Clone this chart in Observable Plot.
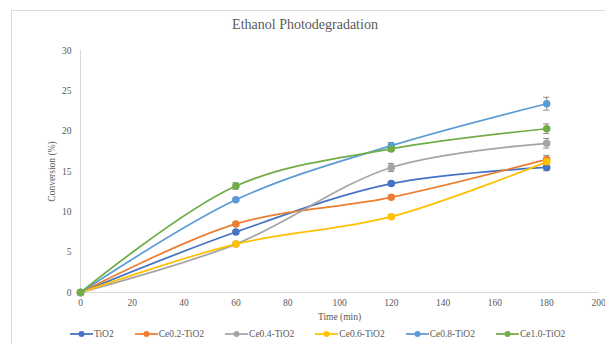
<!DOCTYPE html>
<html>
<head>
<meta charset="utf-8">
<script src="https://cdn.jsdelivr.net/npm/d3@7"></script>
<script src="https://cdn.jsdelivr.net/npm/@observablehq/plot@0.6"></script>
<style>
  html, body { margin: 0; padding: 0; background: #fff; }
  #wrap { position: relative; width: 605px; height: 344px; overflow: hidden; font-family: "Liberation Serif", "Times New Roman", serif; }
  #frame { position: absolute; left: 11px; top: 10px; width: 620px; height: 360px; border: 1px solid #d9d9d9; box-sizing: border-box; }
  #title { position: absolute; left: 0; width: 610px; top: 17px; text-align: center; font-size: 14px; color: #595959; font-family: "Liberation Serif", "Times New Roman", serif; }
  #chart { position: absolute; left: 0; top: 0; }
  #legend { position: absolute; left: 70px; top: 329px; display: flex; font-size: 9.5px; color: #595959; white-space: nowrap; font-family: "Liberation Serif", "Times New Roman", serif; }
  #legend .item { display: flex; align-items: center; margin-right: 21px; }
  #legend svg { margin-right: 1px; }
</style>
</head>
<body>
<div id="wrap">
  <div id="frame"></div>
  <div id="chart"></div>
  <div id="title">Ethanol Photodegradation</div>
  <div id="legend"></div>
</div>
<script>
const times = [0, 60, 120, 180];
const seriesNames = ["TiO2", "Ce0.2-TiO2", "Ce0.4-TiO2", "Ce0.6-TiO2", "Ce0.8-TiO2", "Ce1.0-TiO2"];
const seriesColors = ["#4472C4", "#ED7D31", "#A5A5A5", "#FFC000", "#5B9BD5", "#70AD47"];
const tio2 = [0, 7.5, 13.5, 15.5];
const ce02 = [0, 8.5, 11.8, 16.5];
const ce04 = [0, 6.0, 15.5, 18.5];
const ce06 = [0, 6.0, 9.4, 16.2];
const ce08 = [0, 11.5, 18.2, 23.4];
const ce10 = [0, 13.2, 17.8, 20.3];
const errTio2 = [0, 0.2, 0.25, 0.4];
const errCe02 = [0, 0.2, 0.2, 0.5];
const errCe04 = [0, 0.2, 0.5, 0.6];
const errCe06 = [0, 0.2, 0.2, 0.5];
const errCe08 = [0, 0.2, 0.4, 0.8];
const errCe10 = [0, 0.4, 0.3, 0.6];
const xTicks = [0, 20, 40, 60, 80, 100, 120, 140, 160, 180, 200];
const yTicks = [0, 5, 10, 15, 20, 25, 30];

const values = [tio2, ce02, ce04, ce06, ce08, ce10];
const errs = [errTio2, errCe02, errCe04, errCe06, errCe08, errCe10];
const data = [];
seriesNames.forEach((s, i) => {
  times.forEach((t, j) => {
    data.push({series: s, time: t, value: values[i][j], err: errs[i][j]});
  });
});
const errData = data.filter(d => d.err > 0);
const capHalf = 1.2; // minutes

const chart = Plot.plot({
  width: 605,
  height: 324,
  marginLeft: 80,
  marginRight: 7,
  marginTop: 50,
  marginBottom: 32,
  style: {fontFamily: '"Liberation Serif", "Times New Roman", serif', fontSize: "9.5px", color: "#595959", background: "transparent"},
  x: {type: "linear", domain: [0, 200], ticks: xTicks, tickSize: 0, tickPadding: 7, label: "Time (min)", labelAnchor: "center", labelOffset: 27, labelArrow: "none"},
  y: {type: "linear", domain: [0, 30], ticks: yTicks, tickSize: 0, tickPadding: 9, label: "Conversion (%)", labelAnchor: "center", labelOffset: 32, labelArrow: "none"},
  color: {domain: seriesNames, range: seriesColors},
  marks: [
    Plot.ruleX([0], {stroke: "#d9d9d9"}),
    Plot.ruleY([0], {stroke: "#d9d9d9"}),
    Plot.line(data, {x: "time", y: "value", z: "series", stroke: "series", strokeWidth: 1.75, curve: "catmull-rom"}),
    Plot.ruleX(errData, {x: "time", y1: d => d.value - d.err, y2: d => d.value + d.err, stroke: "#8c8c8c", strokeWidth: 1}),
    Plot.ruleY(errData, {y: d => d.value - d.err, x1: d => d.time - capHalf, x2: d => d.time + capHalf, stroke: "#8c8c8c", strokeWidth: 1}),
    Plot.ruleY(errData, {y: d => d.value + d.err, x1: d => d.time - capHalf, x2: d => d.time + capHalf, stroke: "#8c8c8c", strokeWidth: 1}),
    Plot.dot(data, {x: "time", y: "value", fill: "series", stroke: "series", r: 3})
  ]
});
document.getElementById("chart").appendChild(chart);

const legend = document.getElementById("legend");
seriesNames.forEach((s, i) => {
  const item = document.createElement("div");
  item.className = "item";
  item.innerHTML = `<svg width="23" height="8"><line x1="0" y1="4" x2="23" y2="4" stroke="${seriesColors[i]}" stroke-width="1.75"/><circle cx="11.5" cy="4" r="3" fill="${seriesColors[i]}"/></svg><span>${s}</span>`;
  legend.appendChild(item);
});
</script>
</body>
</html>
